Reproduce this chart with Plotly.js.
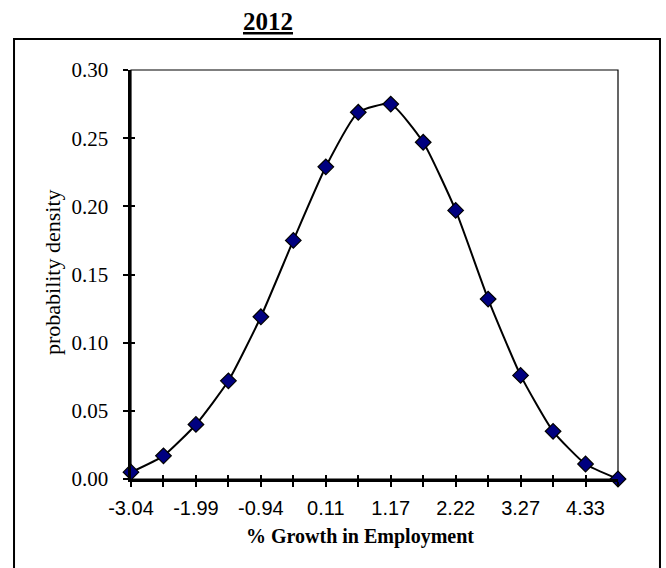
<!DOCTYPE html>
<html>
<head>
<meta charset="utf-8">
<script src="https://cdn.plot.ly/plotly-3.0.1.min.js"></script>
<style>html,body{margin:0;padding:0;background:#fff;}#chart{width:666px;height:568px;}</style>
</head>
<body>
<div id="chart"></div>
<script>
const categories = ["-3.04","-2.52","-1.99","-1.47","-0.94","-0.42","0.11","0.64","1.17","1.69","2.22","2.75","3.27","3.80","4.33","4.85"];
const density = [0.005,0.017,0.040,0.072,0.119,0.175,0.229,0.269,0.275,0.247,0.197,0.132,0.076,0.035,0.011,0.000];
const chartTitle = "2012";
const xTitle = "% Growth in Employment";
const yTitle = "probability density";
const yTicks = [0,0.05,0.10,0.15,0.20,0.25,0.30];

const tickText = categories.map((c,i)=> i%2===0 ? c : "");

const main = {
  x: categories, y: density, type: "scatter", mode: "lines+markers",
  line: {color: "#000", width: 2, shape: "spline", smoothing: 0.5},
  marker: {symbol: "diamond", size: 12, color: "#000080", line: {color: "#000", width: 1.2}},
  cliponaxis: false, hoverinfo: "skip"
};
const overlay = {
  x: categories, y: density, type: "scatter", mode: "lines",
  xaxis: "x2", yaxis: "y2", line: {width: 0}, opacity: 0, hoverinfo: "skip", showlegend: false
};

const serif = "Liberation Serif, Times New Roman, serif";
const sans = "Liberation Sans, Arial, sans-serif";

const layout = {
  width: 666, height: 568,
  margin: {l: 131, r: 48, t: 70, b: 89},
  paper_bgcolor: "#fff", plot_bgcolor: "#fff",
  showlegend: false,
  xaxis: {
    type: "category", range: [0, categories.length - 1],
    tickvals: categories, ticktext: tickText,
    ticks: "outside", ticklen: 5, tickwidth: 2, tickcolor: "#000",
    ticklabelstandoff: 4,
    showline: true, linewidth: 3, linecolor: "#000",
    showgrid: false, zeroline: false,
    tickfont: {family: sans, size: 20, color: "#000"}
  },
  yaxis: {
    range: [0, 0.30], tickvals: yTicks, tickformat: ".2f",
    ticks: "outside", ticklen: 5, tickwidth: 2, tickcolor: "#000",
    ticklabelstandoff: 10,
    showline: true, linewidth: 3.5, linecolor: "#000",
    showgrid: false, zeroline: false,
    tickfont: {family: serif, size: 21, color: "#000"}
  },
  xaxis2: {
    type: "category", overlaying: "x", range: [0, categories.length - 1],
    tickvals: categories, ticktext: categories.map(()=>""),
    ticks: "inside", ticklen: 4, tickwidth: 2, tickcolor: "#000",
    showline: false, showgrid: false, zeroline: false, showticklabels: false
  },
  yaxis2: {
    overlaying: "y", range: [0, 0.30], tickvals: yTicks,
    ticks: "inside", ticklen: 4, tickwidth: 2, tickcolor: "#000",
    showline: false, showgrid: false, zeroline: false, showticklabels: false
  },
  shapes: [
    {type: "rect", xref: "paper", yref: "paper", x0: 0, x1: 1, y0: 0, y1: 1,
     line: {color: "#000", width: 1.2}, layer: "below"},
    {type: "rect", xref: "paper", yref: "paper", x0: -0.2402, x1: 1.0862, y0: -0.35, y1: 1.0758,
     line: {color: "#000", width: 2}}
  ],
  annotations: [
    {text: "<b><u>" + chartTitle + "</u></b>", xref: "paper", yref: "paper", x: 0.2813, y: 1.1174,
     xanchor: "center", yanchor: "middle", showarrow: false,
     font: {family: serif, size: 25, color: "#000"}},
    {text: "<b>" + xTitle + "</b>", xref: "paper", yref: "paper", x: 0.470, y: -0.1418,
     xanchor: "center", yanchor: "middle", showarrow: false,
     font: {family: serif, size: 20, color: "#000"}},
    {text: yTitle, xref: "paper", yref: "paper", x: -0.1622, y: 0.506, textangle: -90,
     xanchor: "center", yanchor: "middle", showarrow: false,
     font: {family: serif, size: 22, color: "#000"}}
  ]
};

Plotly.newPlot("chart", [main, overlay], layout, {staticPlot: true, displayModeBar: false});
</script>
</body>
</html>
